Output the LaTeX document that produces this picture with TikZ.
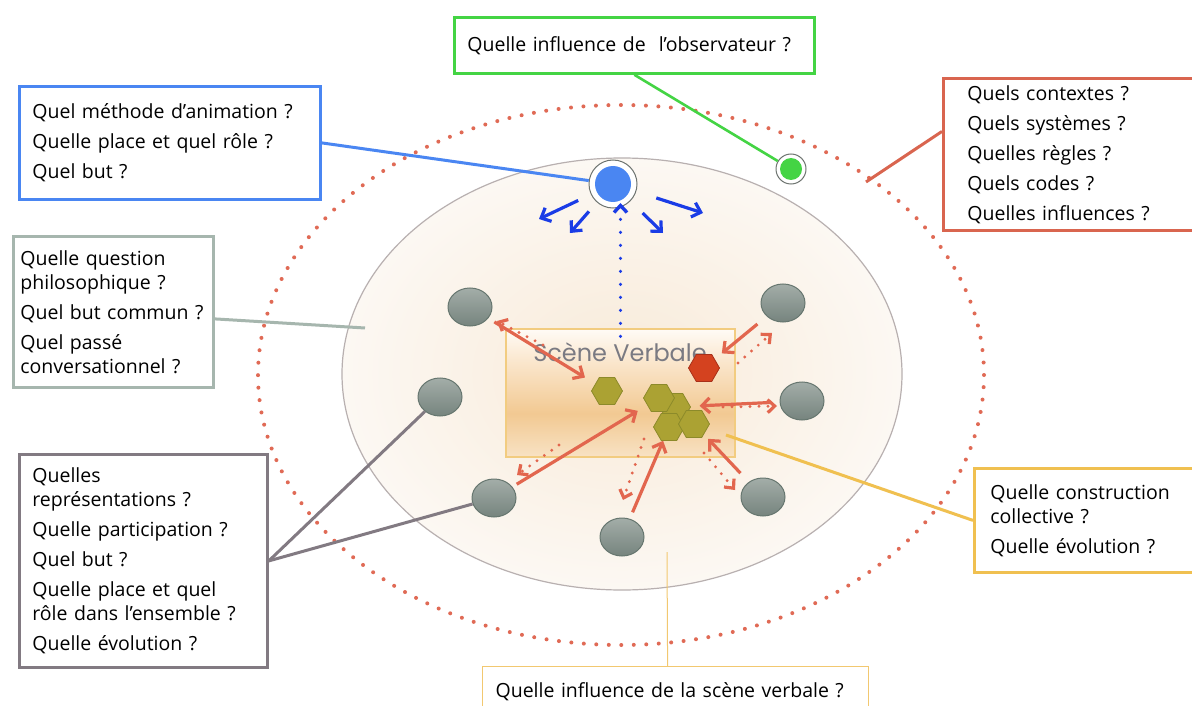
\documentclass[tikz,border=0pt]{standalone}
\usepackage{fontspec}
\setmainfont{Open Sans}
\newfontfamily\scenefont{Poppins}
\usetikzlibrary{shapes.geometric, arrows.meta}
\definecolor{obsgreen}{HTML}{44D444}
\definecolor{animblue}{HTML}{4A86F2}
\definecolor{arrowblue}{HTML}{1A3CE6}
\definecolor{ringgray}{HTML}{6E7470}
\definecolor{philogray}{HTML}{A6B6AE}
\definecolor{partgray}{HTML}{827A82}
\definecolor{ctxred}{HTML}{D9654F}
\definecolor{collyellow}{HTML}{F0C050}
\definecolor{verbyellow}{HTML}{F2C870}
\definecolor{dotred}{HTML}{E06A55}
\definecolor{flowred}{HTML}{E2664E}
\definecolor{hexolive}{HTML}{ABA233}
\definecolor{hexrim}{HTML}{8C8A2A}
\definecolor{hexred}{HTML}{D4421F}
\definecolor{hexredrim}{HTML}{A83018}
\definecolor{persontop}{HTML}{A3ADA8}
\definecolor{personbot}{HTML}{76847E}
\definecolor{personrim}{HTML}{66766F}
\definecolor{scenetext}{HTML}{7A7A82}
\definecolor{sceneline}{HTML}{F2CC80}
\definecolor{scenetop}{HTML}{FFFBF6}
\definecolor{scenemid}{HTML}{FAE6CC}
\definecolor{scenedeep}{HTML}{F2C992}
\definecolor{scenelow}{HTML}{F8E2C4}
\definecolor{spherein}{HTML}{F8EAD8}
\definecolor{sphereout}{HTML}{FCF8F3}
\definecolor{sphererim}{HTML}{B8B0B0}
\pgfdeclareverticalshading{scenefade}{100bp}{color(0bp)=(scenelow); color(25bp)=(scenelow); color(42bp)=(scenedeep); color(62bp)=(scenemid); color(75bp)=(scenetop); color(100bp)=(scenetop)}
\newcommand\boxfont{\fontsize{19.5}{24}\selectfont\hyphenpenalty=10000}

\begin{document}
\begin{tikzpicture}[x=1pt, y=-1pt,
  qbox/.style={draw, line width=2.8pt, fill=white, anchor=north west,
               align=left, inner xsep=13pt, inner ysep=3pt, font=\boxfont},
  ring/.style={circle, draw=ringgray, line width=1pt, fill=white, inner sep=0pt},
  core/.style={circle, inner sep=0pt},
  person/.style={ellipse, minimum width=44pt, minimum height=38pt, inner sep=0pt,
                 draw=personrim, line width=1pt, top color=persontop, bottom color=personbot},
  hexa/.style={regular polygon, regular polygon sides=6, minimum size=31pt,
               inner sep=0pt, fill=hexolive, draw=hexrim, line width=0.8pt},
  flow/.style={-{Straight Barb[length=8pt, width=15pt]}, flowred, line width=3.2pt,
               shorten <=7pt, shorten >=10pt},
  backflow/.style={-{Straight Barb[length=7pt, width=13pt]}, flowred, line width=3.2pt,
                   dash pattern=on 0pt off 9pt, line cap=round},
  spread/.style={-{Straight Barb[length=8pt, width=15pt]}, arrowblue, line width=3.2pt},
  watch/.style={-{Straight Barb[length=7pt, width=13pt]}, arrowblue, line width=3.4pt,
                dash pattern=on 0pt off 13pt, line cap=round},
  link/.style={line width=3pt}]
  \useasboundingbox (0,0) rectangle (1192,706);
  \clip (0,0) rectangle (1192,706);
  \fill[white] (0,0) rectangle (1192,706);
  % context ring and conversation sphere
  \draw[dotred, line width=4pt, line cap=round, dash pattern=on 0pt off 12.5pt]
    (621,375) ellipse [x radius=363pt, y radius=270pt];
  \shade[inner color=spherein, outer color=sphereout, draw=sphererim, line width=1.2pt]
    (622,374) ellipse [x radius=280pt, y radius=216pt];
  % verbal scene
  \node[shade, shading=scenefade, draw=sceneline, line width=1.2pt,
        minimum width=229pt, minimum height=128pt] (scene) at (620.5,393) {};
  \node[font=\scenefont\fontsize{24}{28}\selectfont, text=scenetext] (scenelabel)
    at (620,352) {Scène Verbale};
  % question boxes
  \node[qbox, draw=obsgreen, text width=334pt, minimum height=56pt] (obsbox)
    at (453,16) {Quelle influence de\ \ l’observateur~?};
  \node[qbox, draw=animblue, text width=275pt, minimum height=113pt] (animbox)
    at (18,85) {Quel méthode d’animation~?\\[6pt]Quelle place et quel rôle~?\\[6pt]Quel but~?};
  \node[qbox, draw=philogray, inner xsep=7pt, text width=186pt, minimum height=151pt] (philobox)
    at (12,235) {Quelle question\\philosophique~?\\[6pt]Quel but commun~?\\[6pt]Quel passé\\conversationnel~?};
  \node[qbox, draw=partgray, text width=222pt, minimum height=213pt] (partbox)
    at (18,453) {Quelles\\représentations~?\\[6pt]Quelle participation~?\\[6pt]Quel but~?\\[6pt]Quelle place et quel\\rôle dans l’ensemble~?\\[6pt]Quelle évolution~?};
  \node[qbox, draw=ctxred, inner xsep=24pt, text width=232pt, minimum height=152pt] (ctxbox)
    at (942,77) {Quels contextes~?\\[6pt]Quels systèmes~?\\[6pt]Quelles règles~?\\[6pt]Quels codes~?\\[6pt]Quelles influences~?};
  \node[qbox, draw=collyellow, inner xsep=16pt, text width=228pt, minimum height=104pt] (collbox)
    at (973,467) {Quelle construction\\collective~?\\[6pt]Quelle évolution~?};
  \node[qbox, draw=verbyellow, line width=1.2pt, text width=360pt, minimum height=50pt] (verbbox)
    at (482,666) {Quelle influence de la scène verbale~?};
  % animator and observer
  \node[ring, minimum size=48pt] (anim) at (613,184) {};
  \node[core, fill=animblue, minimum size=36pt] (animcore) at (anim) {};
  \node[ring, minimum size=30pt] (obs) at (791,169) {};
  \node[core, fill=obsgreen, minimum size=22pt] (obscore) at (obs) {};
  % free ends of the leader lines
  \coordinate (ctxend) at (866,182);
  \coordinate (philoend) at (365,328);
  \coordinate (collend) at (726,435);
  \coordinate (verbend) at (667,552);
  % participants
  \node[person] (p1) at (470,307) {};
  \node[person] (p2) at (783,303) {};
  \node[person] (p3) at (440,397) {};
  \node[person] (p4) at (802,401) {};
  \node[person] (p5) at (494,498) {};
  \node[person] (p6) at (622,537) {};
  \node[person] (p7) at (763,497) {};
  % leader lines
  \draw[link, animblue] (animbox.east) -- (anim);
  \draw[link, obsgreen, line width=2.6pt] (obsbox.south) -- (obs);
  \draw[link, ctxred] ([yshift=23pt]ctxbox.west) -- (ctxend);
  \draw[link, philogray] ([yshift=-7pt]philobox.east) -- (philoend);
  \draw[link, partgray] (partbox.east) -- (p3);
  \draw[link, partgray] (partbox.east) -- (p5);
  \draw[link, collyellow] (collbox.west) -- (collend);
  \draw[verbyellow, line width=1pt] ([xshift=-8pt]verbbox.north) -- (verbend);
  % utterances on the scene
  \node[hexa] (h3) at (675,407) {};
  \node[hexa] (h2) at (659,398) {};
  \node[hexa] (h4) at (669,427) {};
  \node[hexa] (h5) at (694,424) {};
  \node[hexa] (h1) at (607,391) {};
  \node[hexa, fill=hexred, draw=hexredrim] (hr) at (704,368) {};
  % contributions to the scene
  \draw[flow, shorten >=12pt] (p1) -- (h1);
  \draw[flow, shorten <=12pt, shorten >=9pt] (p2) -- (hr);
  \draw[flow, shorten <=8pt, shorten >=9pt] (p4) -- (h3);
  \draw[flow, shorten <=5pt, shorten >=11pt] (p5) -- (h2);
  \draw[flow, shorten >=0pt] (p6) -- (h4);
  \draw[flow, shorten <=12pt, shorten >=6pt] (p7) -- (h5);
  % returns from the scene
  \coordinate (r1a) at (543,345); \coordinate (r1b) at (497,321);
  \coordinate (r2a) at (738,363); \coordinate (r2b) at (772,333);
  \coordinate (r3a) at (723,407); \coordinate (r3b) at (777,406);
  \coordinate (r4a) at (559,445); \coordinate (r4b) at (517,475);
  \coordinate (r5a) at (644,439); \coordinate (r5b) at (623,500);
  \coordinate (r6a) at (704,453); \coordinate (r6b) at (735,490);
  \draw[backflow] (r1a) -- (r1b);
  \draw[backflow] (r2a) -- (r2b);
  \draw[backflow] (r3a) -- (r3b);
  \draw[backflow] (r4a) -- (r4b);
  \draw[backflow] (r5a) -- (r5b);
  \draw[backflow] (r6a) -- (r6b);
  % the animator spreads and watches
  \coordinate (b1) at (539,219);
  \coordinate (b2) at (570,233);
  \coordinate (b3) at (663,233);
  \coordinate (b4) at (703,213);
  \draw[spread, shorten <=14pt] (anim) -- (b1);
  \draw[spread, shorten <=12pt] (anim) -- (b2);
  \draw[spread, shorten <=17pt] (anim) -- (b3);
  \draw[spread, shorten <=21pt] (anim) -- (b4);
  \draw[watch, shorten <=-8pt, shorten >=19pt] (scene.north) -- (scene.north |- anim);
\end{tikzpicture}
\end{document}
